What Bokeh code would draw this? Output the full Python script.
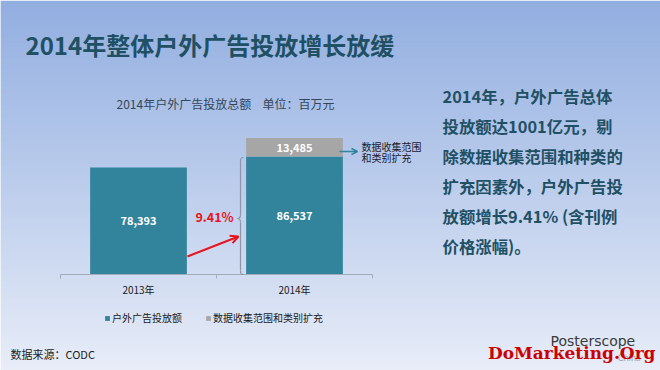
from bokeh.plotting import figure
from bokeh.models import Range1d, Legend, LegendItem, Arrow, OpenHead
from bokeh.core.properties import value
from bokeh.embed import file_html
from bokeh.resources import INLINE

# ---------------- data ----------------
categories = ["2013年", "2014年"]
ad_spend = [78393, 86537]          # 户外广告投放额 (百万元)
expansion = [0, 13485]             # 数据收集范围和类别扩充
growth_label = "9.41%"
series_names = ["户外广告投放额", "数据收集范围和类别扩充"]
title_text = "2014年整体户外广告投放增长放缓"
subtitle_left = "2014年户外广告投放总额"
subtitle_right = "单位：百万元"
note_lines = ["数据收集范围", "和类别扩充"]
body_lines = [
    "2014年，户外广告总体",
    "投放额达1001亿元，剔",
    "除数据收集范围和种类的",
    "扩充因素外，户外广告投",
    "放额增长9.41% (含刊例",
    "价格涨幅)。",
]
source_text = "数据来源：CODC"

# ---------------- layout (page pixel space) ----------------
W, H = 660, 370
PX_L, PX_R, PX_T, PX_B = 0, 660, 0, 370
Y0 = 274            # baseline pixel
K = 136.5 / 100000  # pixels per unit
X0 = 138            # centre of first category
CW = 156            # category width

TEAL = "#31849b"
GRAY = "#a6a6a6"
DARK = "#1f5064"
CJK = value("Noto Sans CJK SC")

p = figure(width=W, height=H, output_backend="svg", toolbar_location=None,
           x_range=Range1d((PX_L - X0) / CW, (PX_R - X0) / CW),
           y_range=Range1d(-(PX_B - Y0) / K, (Y0 - PX_T) / K),
           x_axis_type=None, y_axis_type=None, min_border=0)
p.outline_line_color = None
p.extra_x_ranges = {"px": Range1d(PX_L, PX_R)}
p.extra_y_ranges = {"py": Range1d(PX_B, PX_T)}
PX = dict(x_range_name="px", y_range_name="py")

# background gradient
stops = [(0, (146, 174, 224)), (185, (188, 205, 236)), (370, (232, 237, 248))]
def grad(y):
    for (a, ca), (b, cb) in zip(stops[:-1], stops[1:]):
        if a <= y <= b:
            t = (y - a) / (b - a)
            return "#%02x%02x%02x" % tuple(int(round(ca[i] + (cb[i] - ca[i]) * t)) for i in range(3))
    return "#%02x%02x%02x" % stops[-1][1]
ys = list(range(PX_T, PX_B))
p.quad(left=PX_L, right=PX_R, top=ys, bottom=[y + 1.6 for y in ys],
       fill_color=[grad(y) for y in ys], line_color=None, **PX)

# bars
xs = list(range(len(categories)))
r_main = p.vbar(x=xs, top=ad_spend, bottom=0, width=0.62, fill_color=TEAL, line_color=None)
tops = [a + e for a, e in zip(ad_spend, expansion)]
r_exp = p.vbar(x=xs, top=tops, bottom=ad_spend, width=0.62, fill_color=GRAY, line_color=None)

# bar labels
p.text(x=xs, y=[v / 2 for v in ad_spend], text=[f"{v:,}" for v in ad_spend],
       text_font=CJK, text_font_style="bold", text_font_size="11px", text_color="white",
       text_align="center", text_baseline="middle")
ex_x = [i for i, e in zip(xs, expansion) if e > 0]
ex_y = [a + e / 2 for a, e in zip(ad_spend, expansion) if e > 0]
ex_t = [f"{e:,}" for e in expansion if e > 0]
p.text(x=ex_x, y=ex_y, text=ex_t, text_font=CJK, text_font_style="bold",
       text_font_size="11px", text_color="white", text_align="center", text_baseline="middle")

# category axis (drawn)
n = len(categories)
p.segment(x0=[-0.5], y0=[0], x1=[n - 0.5], y1=[0], line_color="#a3abb8", line_width=1)
bounds = [i - 0.5 for i in range(n + 1)]
p.segment(x0=bounds, y0=[0] * len(bounds), x1=bounds, y1=[-4 / K] * len(bounds),
          line_color="#a3abb8", line_width=1)
p.text(x=xs, y=[-15 / K] * n, text=categories, text_font=CJK, text_font_size="10px",
       text_color="#1a1a1a", text_align="center", text_baseline="middle")

# legend
legend = Legend(items=[LegendItem(label=series_names[0], renderers=[r_main]),
                       LegendItem(label=series_names[1], renderers=[r_exp])],
                orientation="horizontal", location=(104, 45), padding=0, margin=0,
                spacing=23, label_standoff=2, glyph_width=6, glyph_height=6,
                label_height=12, label_text_font="Noto Sans CJK SC",
                label_text_font_size="10px", label_text_color="#1a1a1a",
                border_line_color=None, background_fill_alpha=0)
p.add_layout(legend, "center")

# titles
p.text(x=[25], y=[44], text=[title_text], text_font=CJK, text_font_style="bold",
       text_font_size="24px", text_color=DARK, text_baseline="middle", **PX)
p.text(x=[116, 262], y=[103, 103], text=[subtitle_left, subtitle_right], text_font=CJK,
       text_font_size="12px", text_color="#34475a", text_baseline="middle", **PX)

# growth
p.text(x=[214], y=[216], text=[growth_label], text_font=CJK, text_font_style="bold",
       text_font_size="12.5px", text_color="#e8141c", text_align="center",
       text_baseline="middle", **PX)
p.add_layout(Arrow(x_start=187, y_start=256, x_end=238, y_end=236, line_color="#e8141c",
                   line_width=2, end=OpenHead(size=8, line_color="#e8141c", line_width=2), **PX))

# brace
BC = "#8c96a8"
p.bezier(x0=[243, 240, 237, 240], y0=[157, 214, 218, 270],
         x1=[240, 237, 240, 243], y1=[161, 218, 222, 274],
         cx0=[240.5, 240, 239, 240], cy0=[157, 216.5, 218, 273],
         cx1=[240, 239, 240, 240.5], cy1=[158, 218, 219.5, 274],
         line_color=BC, line_width=1.2, **PX)
p.segment(x0=[240, 240], y0=[161, 222], x1=[240, 240], y1=[214, 270],
          line_color=BC, line_width=1.2, **PX)

# note for the expansion segment
p.add_layout(Arrow(x_start=339, y_start=151, x_end=357, y_end=151, line_color=TEAL,
                   line_width=1.5, end=OpenHead(size=6, line_color=TEAL, line_width=1.5), **PX))
p.text(x=[361, 361], y=[146, 157], text=note_lines, text_font=CJK, text_font_size="10px",
       text_color="#1a1a2a", text_baseline="middle", **PX)

# body text
p.text(x=[442] * len(body_lines), y=[95 + 30 * i for i in range(len(body_lines))],
       text=body_lines, text_font=CJK, text_font_style="bold", text_font_size="16.4px",
       text_color=DARK, text_baseline="middle", **PX)

# footer
p.text(x=[10], y=[353], text=[source_text], text_font=CJK, text_font_size="11px",
       text_color="#222222", text_baseline="middle", **PX)
p.text(x=[550], y=[340], text=["Posterscope"], text_font=value("DejaVu Sans"),
       text_font_size="14px", text_color="#3a3a3a", text_baseline="middle", **PX)
p.text(x=[640], y=[357], text=["China"], text_font=value("Lato"), text_font_size="9px",
       text_color="#9aa4b4", text_align="right", text_baseline="middle", **PX)
p.text(x=[655], y=[352], text=["DoMarketing.Org"], text_font=value("DejaVu Serif"),
       text_font_style="bold", text_font_size="17px", text_color="#cc0000",
       text_align="right", text_baseline="middle", **PX)

open("out.html", "w").write(file_html(p, INLINE))
